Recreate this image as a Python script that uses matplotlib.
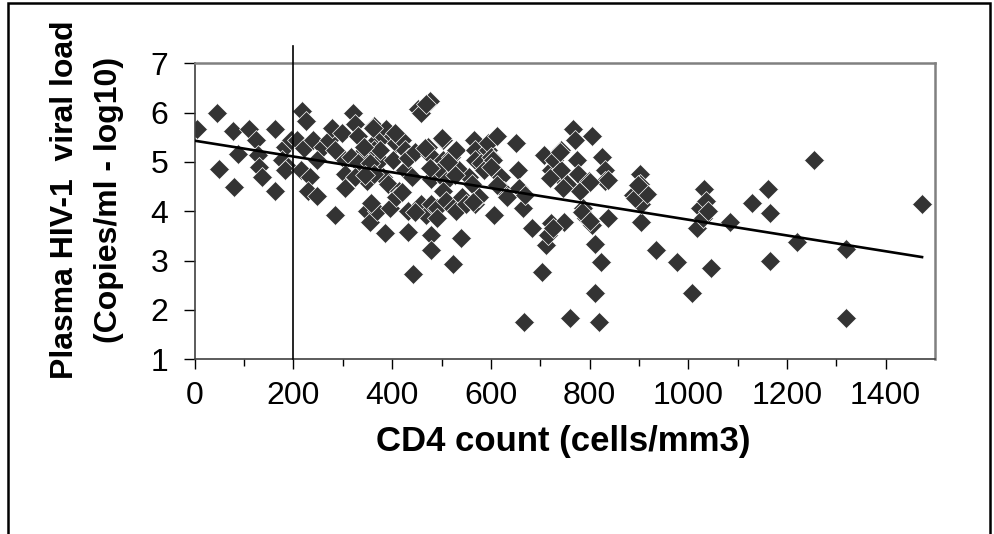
import numpy as np
import matplotlib
matplotlib.use("Agg")
import matplotlib.pyplot as plt
from matplotlib.patches import Rectangle

# CD4 count (cells/mm3) vs plasma HIV-1 viral load (log10 copies/ml)
cd4 = [5, 45, 48, 77, 80, 87, 109, 125, 128, 131, 137, 163, 163, 183, 176, 189, 195, 182,
       218, 225, 208, 221, 215, 234, 230, 247, 240, 260, 247, 272, 279, 285, 298, 305, 305,
       305, 321, 324, 330, 337, 343, 350, 363, 369, 363, 375, 382, 382, 388, 350, 356, 369,
       386, 395, 391, 285, 317, 330, 356, 375, 324, 343, 363,
       401, 407, 420, 427, 401, 414, 407, 427, 433, 440, 433, 433, 442, 452, 459, 476, 468,
       446, 459, 468, 472, 476, 478, 478, 478, 478, 491, 491, 504, 504, 497, 510, 504, 510,
       519, 523, 523, 530, 530, 536, 540, 542, 549, 555, 562, 566, 568, 568, 568, 575, 581,
       587, 594, 594, 600,
       604, 607, 613, 620, 626, 632, 652, 656, 658, 665, 668, 684, 703, 707, 712, 716, 722,
       722, 729, 735, 742, 742, 748, 754, 761, 767, 771, 774, 776, 780, 787, 793, 799, 806,
       806, 812, 812, 819, 823, 825, 832, 832, 838,
       889, 902, 902, 905, 915, 934, 977, 905,
       1008, 1018, 1024, 1033, 1037, 1031, 1041, 1046, 1085, 1130, 1162, 1166, 1166, 1221,
       1256, 1320, 1320, 1474,
       740, 720, 747, 726, 600, 669, 612, 527, 564, 892, 916, 899, 838, 801, 784, 800,
       361, 405, 466, 500, 513, 476, 419, 358, 446, 345]
viral_load = [5.67, 6.0, 4.86, 5.62, 4.5, 5.17, 5.67, 5.45, 5.14, 4.9, 4.7, 5.66, 4.41, 5.31,
              5.03, 4.9, 5.45, 4.83,
              6.03, 5.83, 5.45, 5.28, 4.83, 4.69, 4.41, 4.31, 5.45, 5.31, 5.03, 5.45, 5.69,
              3.93, 5.59, 5.03, 4.76, 4.48, 6.0, 5.76, 5.52, 5.17, 4.83, 4.62, 5.72, 5.45,
              5.24, 5.03, 5.52, 4.69, 5.66, 4.0, 3.79, 4.0, 3.55, 4.07, 4.55, 5.24, 5.1, 4.97,
              4.97, 5.24, 4.69, 5.31, 4.76,
              5.52, 5.38, 5.45, 5.24, 5.03, 4.41, 4.28, 4.83, 5.07, 4.69, 4.0, 3.59, 2.72,
              6.07, 6.0, 6.24, 6.17, 5.21, 4.14, 3.93, 5.31, 5.14, 4.66, 4.14, 3.52, 3.21,
              4.07, 3.86, 5.45, 5.03, 4.83, 4.62, 4.41, 4.21, 5.1, 2.93, 4.07, 4.0, 5.24,
              4.83, 3.45, 4.28, 4.14, 4.69, 4.55, 5.45, 5.24, 5.03, 4.14, 4.28, 4.97, 4.83,
              5.24, 5.38, 5.1,
              5.03, 3.93, 5.52, 4.69, 4.41, 4.28, 5.38, 4.83, 4.48, 4.07, 1.76, 3.66, 2.76,
              5.14, 3.31, 3.52, 4.83, 3.76, 5.03, 4.76, 5.24, 4.83, 3.79, 4.55, 1.83, 5.66,
              5.45, 5.03, 4.76, 4.41, 4.07, 3.86, 4.62, 5.52, 3.72, 3.34, 2.34, 1.76, 2.97,
              5.1, 4.83, 4.62, 3.86,
              4.34, 4.76, 4.55, 3.79, 4.34, 3.21, 2.97, 4.14,
              2.34, 3.66, 4.07, 4.45, 4.21, 3.86, 4.0, 2.86, 3.79, 4.17, 4.45, 3.97, 3.0, 3.38,
              5.03, 3.24, 1.83, 4.15,
              5.21, 4.67, 4.47, 3.66, 4.9, 4.33, 4.53, 4.74, 4.19, 4.26, 4.36, 4.53, 4.63, 4.6,
              3.99, 3.8,
              5.68, 5.58, 5.28, 5.48, 5.0, 4.88, 4.4, 4.16, 3.99, 4.74]

# linear trend line
trend_intercept = 5.43
trend_slope = -0.0016
cd4_cutoff = 200

x_ticks = [0, 200, 400, 600, 800, 1000, 1200, 1400]
y_ticks = [1, 2, 3, 4, 5, 6, 7]

plt.rcParams['font.family'] = ['Liberation Sans', 'DejaVu Sans']

fig = plt.figure(figsize=(9.94, 5.34), dpi=100)
ax = fig.add_axes([0.196, 0.3272, 0.7445, 0.5543])

ax.plot(cd4, viral_load, linestyle='none', marker='D', markersize=9.8,
        markerfacecolor='#333333', markeredgecolor='white', markeredgewidth=0.5, zorder=2)

xs = np.array([0, max(cd4)])
ax.plot(xs, trend_intercept + trend_slope * xs, color='black', linewidth=1.9, zorder=3)

ax.plot([cd4_cutoff, cd4_cutoff], [1, 7.35], color='black', linewidth=1.2,
        clip_on=False, zorder=4)

ax.set_xlim(0, 1500)
ax.set_ylim(1, 7)
ax.set_xticks(x_ticks)
ax.set_xticks(np.arange(100, 1500, 200), minor=True)
ax.set_yticks(y_ticks)
ax.tick_params(axis='both', which='major', labelsize=23, direction='out',
               color='black', width=1)
ax.tick_params(axis='x', which='major', length=7, pad=9)
ax.tick_params(axis='x', which='minor', length=5, width=1)
ax.tick_params(axis='y', which='major', length=8, pad=11)

for side in ['top', 'right']:
    ax.spines[side].set_color('#808080')
    ax.spines[side].set_linewidth(1.8)
for side in ['left', 'bottom']:
    ax.spines[side].set_color('#404040')
    ax.spines[side].set_linewidth(1.2)

fig.text(0.0654, 0.6255, 'Plasma HIV-1  viral load', rotation=90, ha='center',
         va='center', fontsize=23, fontweight='bold')
fig.text(0.1096, 0.6255, '(Copies/ml - log10)', rotation=90, ha='center',
         va='center', fontsize=23, fontweight='bold')
fig.text(0.567, 1 - 442 / 534, 'CD4 count (cells/mm3)', ha='center', va='center',
         fontsize=25, fontweight='bold')

# outer chart frame
fig.patches.append(Rectangle((0.008, -0.05), 0.988, 1.045, transform=fig.transFigure,
                             fill=False, edgecolor='black', linewidth=1.8))

fig.savefig('out.png', dpi=100)
